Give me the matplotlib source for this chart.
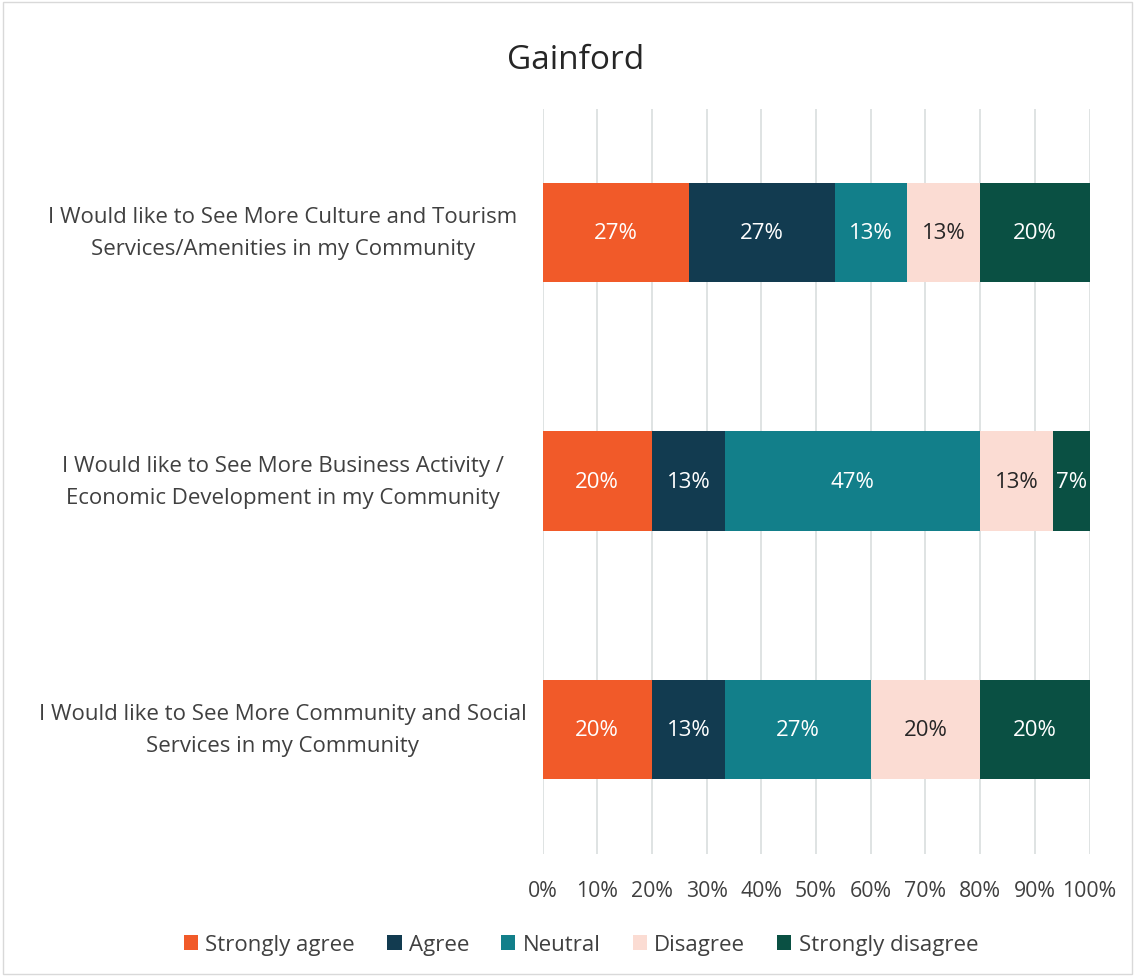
import numpy as np
import matplotlib.pyplot as plt
from matplotlib.patches import Rectangle

plt.rcParams['font.family'] = ['Open Sans', 'DejaVu Sans']

categories = [
    "I Would like to See More Culture and Tourism\nServices/Amenities in my Community",
    "I Would like to See More Business Activity /\nEconomic Development in my Community",
    "I Would like to See More Community and Social\nServices in my Community",
]
series = ["Strongly agree", "Agree", "Neutral", "Disagree", "Strongly disagree"]
strongly_agree = [26.7, 20.0, 20.0]
agree = [26.7, 13.3, 13.3]
neutral = [13.3, 46.7, 26.7]
disagree = [13.3, 13.3, 20.0]
strongly_disagree = [20.0, 6.7, 20.0]
colors = ["#F15A29", "#123B50", "#127F8A", "#FBDCD3", "#0A5043"]
label_colors = ["white", "white", "white", "#262626", "white"]

values = [strongly_agree, agree, neutral, disagree, strongly_disagree]

fig = plt.figure(figsize=(11.35, 9.78), dpi=100)
ax = fig.add_axes([0.478, 0.126, 0.482, 0.762])

y = np.arange(len(categories))
left = np.zeros(len(categories))
for name, vals, c, lc in zip(series, values, colors, label_colors):
    vals = np.array(vals)
    ax.barh(y, vals, left=left, height=0.4, color=c, label=name, zorder=3)
    # 값 라벨
    for yi, l, v in zip(y, left, vals):
        ax.text(l + v / 2, yi, f"{v:.0f}%", ha='center', va='center',
                color=lc, fontsize=16, zorder=4)
    left += vals

ax.set_xlim(0, 100)
ax.set_ylim(2.5, -0.5)
ax.set_xticks(np.arange(0, 101, 10))
ax.set_xticklabels([f"{t}%" for t in range(0, 101, 10)], fontsize=15.3, color='#404040')
ax.set_yticks(y)
ax.set_yticklabels(categories, fontsize=16, color='#404040', ha='center',
                   va='center', linespacing=1.7)
ax.tick_params(axis='y', length=0, pad=187)
ax.tick_params(axis='x', length=0, pad=19)
ax.grid(axis='x', color='#D9DEDE', linewidth=1.2, zorder=0)
for s in ax.spines.values():
    s.set_visible(False)

fig.text(0.507, 0.938, "Gainford", fontsize=24, ha='center', va='center', color='#262626')
fig.legend(loc='center', bbox_to_anchor=(0.512, 0.033), ncol=5, frameon=False,
           fontsize=16, handlelength=0.64, handleheight=0.64, handletextpad=0.32,
           columnspacing=1.45, labelcolor='#404040')

# 바깥 테두리
fig.patches.append(Rectangle((0.003, 0.003), 0.994, 0.994, transform=fig.transFigure,
                             fill=False, edgecolor='#D9D9D9', linewidth=1))

fig.savefig("out.png", dpi=100)
